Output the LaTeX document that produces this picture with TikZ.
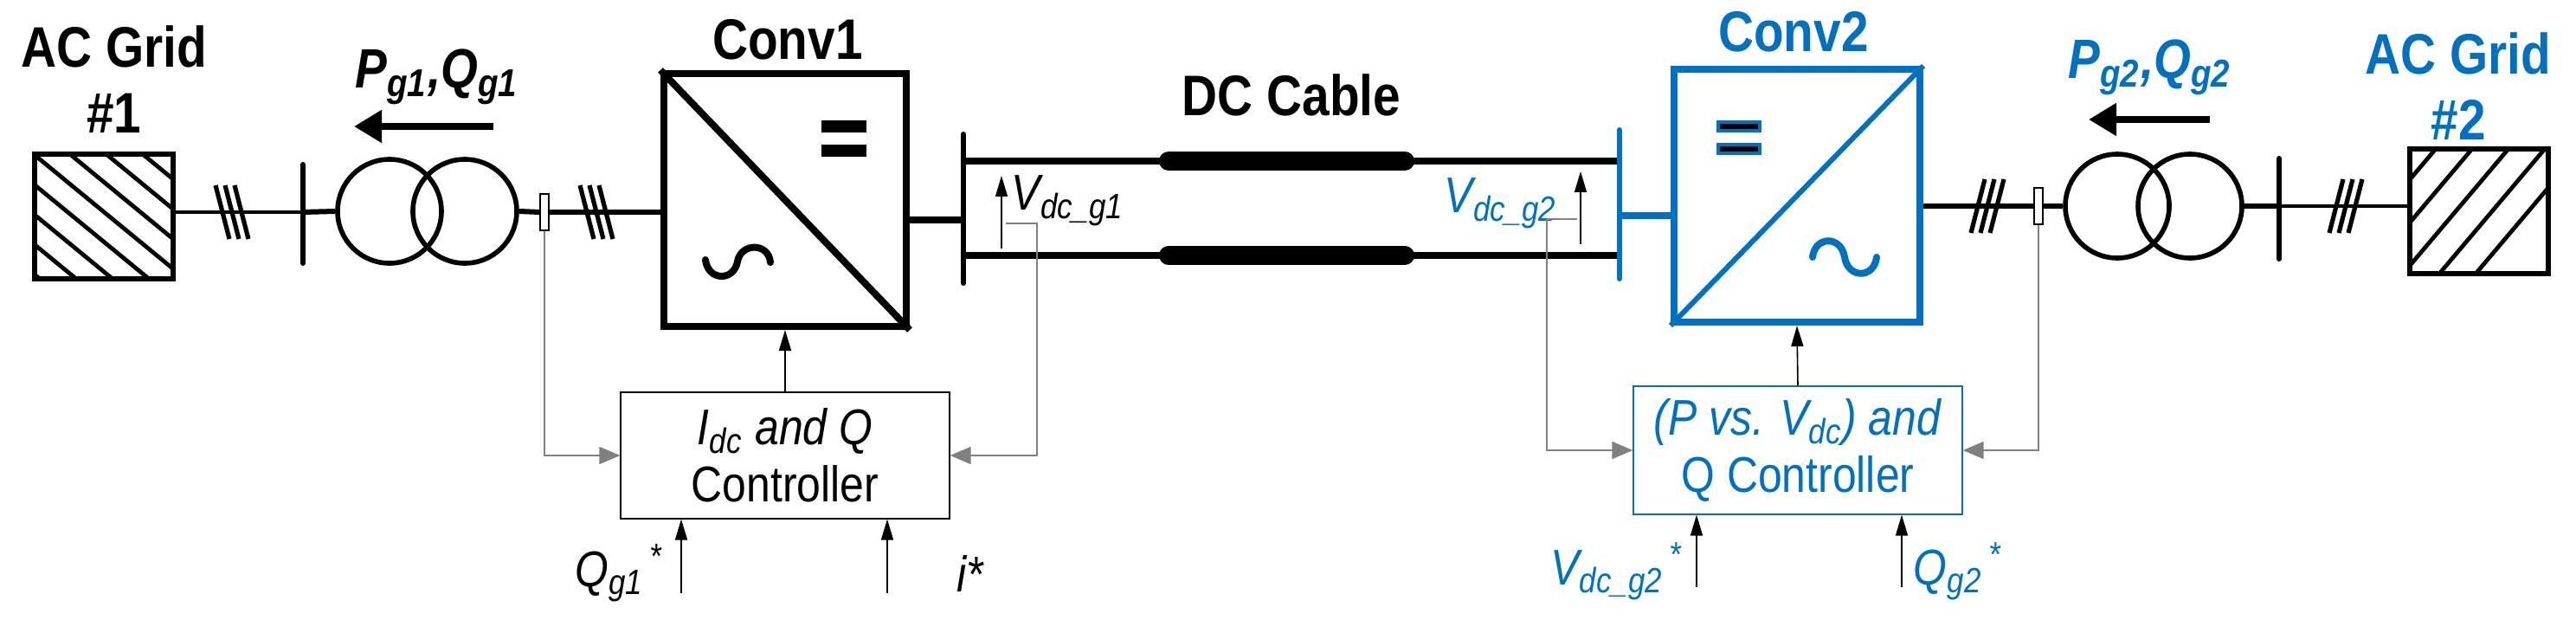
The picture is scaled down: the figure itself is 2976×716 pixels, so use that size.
\documentclass[tikz,border=0pt]{standalone}
\usepackage{fontspec}
\setmainfont{Liberation Sans}[FakeStretch=0.86]
\usetikzlibrary{arrows.meta}
\definecolor{cblue}{RGB}{0,112,192}
\tikzset{
  ttl/.style={font=\bfseries\fontsize{16.5}{19}\selectfont,align=center,inner sep=0pt},
  lbl/.style={font=\itshape\fontsize{14.5}{16}\selectfont,inner sep=0pt},
  conv/.style={draw,line width=2pt,minimum width=70pt,minimum height=73pt,inner sep=0pt},
  ctrl/.style={draw,line width=0.3pt,minimum width=95pt,minimum height=36.5pt,
    align=center,font=\fontsize{14.5}{16.5}\selectfont,inner sep=0pt},
  grid/.style={draw,line width=1.5pt,minimum width=40pt,minimum height=36pt,inner sep=0pt},
  trafo/.style={circle,draw,line width=1.4pt,minimum size=30pt,inner sep=0pt},
  sens/.style={draw,fill=white,line width=0.3pt,minimum width=2.5pt,minimum height=10.5pt,inner sep=0pt},
  bus/.style={line width=1.5pt,line cap=round},
  pwr/.style={line width=1.5pt},
  sig/.style={line width=0.4pt,-{Triangle[length=6pt,width=3.5pt]}},
  fb/.style={gray,line width=0.4pt,-{Triangle[length=6pt,width=5pt]}},
  flow/.style={line width=2.2pt,-{Triangle[length=8pt,width=9pt]}},
  tick/.pic={\foreach \i in {-1,0,1} \draw[line width=1.3pt] (\i*11-8,-31) -- (\i*11+8,31);}
}
\begin{document}
\begin{tikzpicture}[x=0.25pt,y=-0.25pt]
\useasboundingbox (0,0) rectangle (2976,716);

% AC side 1
\node[grid] (g1) at (120,250) {};
\begin{scope}
  \clip (40,179) rectangle (201,322);
  \foreach \d in {-168,-126,...,170} \draw[line width=1.2pt] (40+\d,179) -- ++(174,143);
\end{scope}
\node[ttl] (g1t) at (132,92) {AC Grid\\\#1};
\coordinate (b1t) at (350,190);
\coordinate (b1b) at (350,304);
\coordinate (b1) at (350,245);
\node[trafo] (t1a) at (450,244) {};
\node[trafo] (t1b) at (537,244) {};
\node[sens] (s1) at (629,245) {};
\node[conv] (c1) at (907,231) {};
\draw[line width=2pt] (c1.north west) -- (c1.south east);
\draw[fill=black] (950,140) rectangle (1000,152);
\draw[fill=black] (950,168) rectangle (1000,180);
\draw[line width=2pt,line cap=round] (815,300) .. controls (818,325) and (848,325) .. (852,302)
  .. controls (856,280) and (888,280) .. (890,303);
\node[ttl] (c1t) at (910,46) {Conv1};
\draw[line width=0.9pt] (g1.east |- b1) -- (b1);
\draw[bus] (b1t) -- (b1b);
\draw[pwr] (b1) -- (t1a.west);
\draw[pwr] (t1b.east) -- (s1.west);
\draw[pwr] (s1.east) -- (c1.west |- s1);
\pic at (268,245) {tick};
\pic at (689,245) {tick};
\node[lbl,font=\bfseries\itshape\fontsize{16}{18}\selectfont] (pq1) at (505,89) {P\textsubscript{g1},Q\textsubscript{g1}};
\coordinate (f1a) at (570,146);
\coordinate (f1b) at (409,146);
\draw[flow] (f1a) -- (f1b);

% controller 1
\node[ctrl] (k1) at (907,526) {\textit{I\textsubscript{dc} and Q}\\Controller};
\draw[sig] (k1.north) -- (c1.south);
\coordinate (q1in) at (787,685);
\coordinate (i1in) at (1025,685);
\draw[sig] (q1in) -- (q1in |- k1.south);
\draw[sig] (i1in) -- (i1in |- k1.south);
\node[lbl,anchor=east] (q1l) at (767,662) {Q\textsubscript{g1}\textsuperscript{\,*}};
\node[lbl] (i1l) at (1121,662) {i*};

% DC link
\coordinate (d1t) at (1113,155);
\coordinate (d1b) at (1113,327);
\coordinate (d1) at (1113,254);
\coordinate (d2t) at (1871,150);
\coordinate (d2b) at (1871,322);
\coordinate (d2) at (1871,249);
\draw[line width=2pt] (c1.east |- d1) -- (d1);
\draw[bus] (d1t) -- (d1b);
\draw[line width=2pt] (1113,186) -- (1871,186);
\draw[line width=2pt] (1113,295) -- (1871,295);
\draw[line width=5.5pt,line cap=round] (1350,186) -- (1623,186);
\draw[line width=5.5pt,line cap=round] (1350,295) -- (1623,295);
\node[ttl] (dct) at (1492,110) {DC Cable};
\coordinate (v1a) at (1157,287);
\coordinate (v1b) at (1157,203);
\draw[sig] (v1a) -- (v1b);
\node[lbl,anchor=west] (v1l) at (1168,232) {V\textsubscript{dc\_g1}};
\coordinate (v1s) at (1162,258);
\coordinate (v1c) at (1198,258);
\draw[fb] (v1s) -- (v1c) |- (k1.east);
\draw[fb] (s1.south) |- (k1.west);

% converter 2
\draw[bus,cblue] (d2t) -- (d2b);
\node[conv,draw=cblue,minimum width=71pt] (c2) at (2076,226) {};
\draw[cblue,line width=1.5pt] (c2.south west) -- (c2.north east);
\draw[fill=black,draw=cblue,line width=1pt] (1985,141) rectangle (2033,151);
\draw[fill=black,draw=cblue,line width=1pt] (1985,167) rectangle (2033,177);
\draw[cblue,line width=2pt,line cap=round] (2094,297) .. controls (2097,272) and (2127,272) .. (2131,297)
  .. controls (2135,322) and (2165,322) .. (2168,297);
\draw[cblue,line width=2pt] (d2) -- (c2.west |- d2);
\node[ttl,text=cblue] (c2t) at (2072,37) {Conv2};
\coordinate (v2a) at (1826,282);
\coordinate (v2b) at (1826,198);
\draw[sig] (v2a) -- (v2b);
\node[lbl,anchor=east,text=cblue] (v2l) at (1800,235) {V\textsubscript{dc\_g2}};
\coordinate (v2s) at (1822,253);
\coordinate (v2c) at (1787,253);

% controller 2
\node[ctrl,draw=cblue,minimum width=95pt,minimum height=37pt,text=cblue] (k2) at (2077,520)
  {\textit{(P vs. V\textsubscript{dc}) and}\\Q Controller};
\draw[sig] (k2.north) -- (c2.south);
\draw[fb] (v2s) -- (v2c) |- (k2.west);
\coordinate (v2in) at (1960,678);
\coordinate (q2in) at (2197,678);
\draw[sig] (v2in) -- (v2in |- k2.south);
\draw[sig] (q2in) -- (q2in |- k2.south);
\node[lbl,anchor=east,text=cblue] (v2il) at (1945,660) {V\textsubscript{dc\_g2}\textsuperscript{\,*}};
\node[lbl,anchor=west,text=cblue] (q2il) at (2210,660) {Q\textsubscript{g2}\textsuperscript{\,*}};

% AC side 2
\node[sens] (s2) at (2355,238) {};
\node[trafo] (t2a) at (2446,238) {};
\node[trafo] (t2b) at (2530,238) {};
\coordinate (b2t) at (2633,183);
\coordinate (b2b) at (2633,299);
\coordinate (b2) at (2633,238);
\node[grid] (g2) at (2864,244) {};
\begin{scope}
  \clip (2785,173) rectangle (2943,315);
  \foreach \d in {-140,-98,...,230} \draw[line width=1.2pt] (2785+\d,173) -- ++(-120,142);
\end{scope}
\node[ttl,text=cblue] (g2t) at (2840,100) {AC Grid\\\#2};
\draw[pwr] (c2.east |- s2) -- (s2.west);
\draw[pwr] (s2.east) -- (t2a.west);
\draw[pwr] (t2b.east) -- (b2);
\draw[bus] (b2t) -- (b2b);
\draw[line width=0.9pt] (b2) -- (g2.west |- b2);
\pic[xscale=-1] at (2296,238) {tick};
\pic[xscale=-1] at (2710,238) {tick};
\draw[fb] (s2.south) |- (k2.east);
\node[lbl,font=\bfseries\itshape\fontsize{16}{18}\selectfont,text=cblue] (pq2) at (2484,78) {P\textsubscript{g2},Q\textsubscript{g2}};
\coordinate (f2a) at (2553,138);
\coordinate (f2b) at (2413,138);
\draw[flow] (f2a) -- (f2b);
\end{tikzpicture}
\end{document}
